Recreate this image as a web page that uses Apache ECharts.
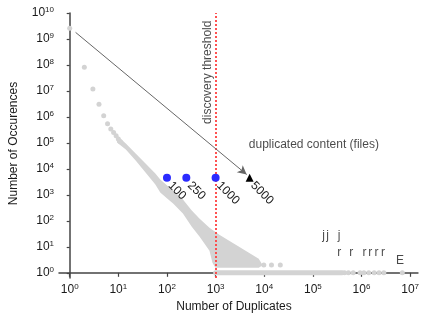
<!DOCTYPE html>
<html><head><meta charset="utf-8">
<script src="https://cdn.jsdelivr.net/npm/echarts@6/dist/echarts.min.js"></script>
<style>html,body{margin:0;padding:0;background:#fff}#c{width:422px;height:320px}</style>
</head><body><div id="c"></div>
<script>
// ---- tick labels (shown as 10^n) ----
const xTickExps = [0, 1, 2, 3, 4, 5, 6, 7];
const yTickExps = [0, 1, 2, 3, 4, 5, 6, 7, 8, 9, 10];

// ---- sparse head of the distribution (duplicates, occurences) ----
const headDuplicates = [1, 2, 3, 4, 5, 6, 7, 8, 9, 10, 11];
const headOccurences = [2.6e9, 8.1e7, 1.2e7, 3.1e6, 1.1e6, 5.5e5, 3.4e5, 2.5e5, 1.9e5, 1.4e5, 1.1e5];

// ---- outline of the dense grey band, as log10 values ----
const bandLogDup = [0.972, 1.154, 1.356, 1.559, 1.761, 1.862, 2.004, 2.126, 2.328, 2.510, 2.672, 2.874, 3.077, 3.279, 3.482, 3.684, 3.887, 3.968,
                    3.887, 2.996, 2.935, 2.874, 2.672, 2.510, 2.328, 2.126, 2.004, 1.862, 1.761, 1.559, 1.356, 1.154, 0.972];
const bandLogOcc = [5.290, 4.981, 4.595, 4.208, 3.822, 3.591, 3.359, 3.166, 2.819, 2.394, 2.085, 1.737, 1.467, 1.236, 1.004, 0.772, 0.541, 0.290,
                    0.193, 0.193, 0.386, 0.849, 1.390, 1.776, 2.278, 2.664, 2.857, 3.089, 3.398, 3.861, 4.324, 4.749, 5.019];

// ---- tail rows ----
const twoRowDuplicates = [9800, 14100, 21400];           // occurences = 2
const oneRowSolidDuplicates = [1000, 4.0e5];             // contiguous run, occurences = 1
const oneRowDuplicates = [4.47e5, 5.37e5, 6.76e5, 9.33e5, 1.12e6, 1.41e6, 1.82e6, 2.29e6, 2.88e6, 6.9e6];

// ---- highlighted thresholds ----
const thresholdDuplicates = [100, 250, 1000];
const thresholdLabels = ['100', '250', '1000'];
const filesDuplicates = [5000];
const filesLabels = ['5000'];
const markerOccurences = 4570;
const discoveryThreshold = 1000;

// ---- letter annotations ----
const letterText = ['j', 'j', 'j', 'r', 'r', 'r', 'r', 'r', 'r', 'E'];
const letterDuplicates = [1.66e5, 2.0e5, 3.47e5, 3.47e5, 6.17e5, 1.15e6, 1.51e6, 2.04e6, 2.75e6, 6.2e6];
const letterOccurences = [26, 26, 26, 5.9, 5.9, 5.9, 5.9, 5.9, 5.9, 3.0];

// ---- text annotations (log10 duplicates, log10 occurences) ----
const noteText = ['discovery threshold', 'duplicated content (files)'];
const noteLogDup = [2.83, 5.02];
const noteLogOcc = [7.72, 4.94];
const noteRotate = [90, 0];

// ---- arrow (duplicates, occurences) ----
const arrowStart = [1.32, 1.8e9];
const arrowEnd = [4350, 6080];

const L = Math.log10;
const GREY = '#d3d3d3';
const FONT = '"Liberation Sans", Arial, Helvetica, sans-serif';
const pow = v => '{b|10}{s|' + v + '}';
const rich = { b: { fontSize: 12, fontFamily: FONT, color: '#1a1a1a', lineHeight: 14 },
               s: { fontSize: 8, fontFamily: FONT, color: '#1a1a1a', verticalAlign: 'top', lineHeight: 10 } };

const chart = echarts.init(document.getElementById('c'), null, { renderer: 'canvas' });
const axisCommon = {
  type: 'value', splitLine: { show: false },
  axisLine: { show: true, lineStyle: { color: '#444', width: 1.5 } },
  nameTextStyle: { fontSize: 12, fontFamily: FONT, color: '#1a1a1a' }
};
const noteLabel = { show: true, formatter: p => p.name, position: 'inside', fontSize: 12, fontFamily: FONT, color: '#1a1a1a' };
chart.setOption({
  animation: false,
  grid: { left: 57, right: 0, top: 13, bottom: 42 },
  xAxis: Object.assign({}, axisCommon, {
    min: -0.22, max: 7.16,
    name: 'Number of Duplicates', nameLocation: 'middle', nameGap: 22,
    nameTextStyle: { fontSize: 12, fontFamily: FONT, color: '#1a1a1a', padding: [0, 9, 0, 0] },
    axisTick: { show: true, length: 4, customValues: xTickExps, lineStyle: { color: '#444', width: 1.2 } },
    axisLabel: { customValues: xTickExps, margin: 5, formatter: pow, rich: rich }
  }),
  yAxis: Object.assign({}, axisCommon, {
    min: -0.2, max: 10,
    name: 'Number of Occurences', nameLocation: 'middle', nameGap: 39,
    nameTextStyle: { fontSize: 12, fontFamily: FONT, color: '#1a1a1a', padding: [0, 0, 0, 4] },
    axisTick: { show: true, length: 3, customValues: yTickExps, lineStyle: { color: '#444', width: 1.2 } },
    axisLabel: { customValues: yTickExps, margin: 5, formatter: pow, rich: rich }
  }),
  series: [
    { type: 'custom', z: 1,
      data: bandLogDup.map((x, i) => [x, bandLogOcc[i]]),
      encode: { x: 0, y: 1 },
      renderItem: (params, api) => {
        if (params.dataIndex !== 0) return null;
        const pts = bandLogDup.map((x, i) => api.coord([x, bandLogOcc[i]]));
        return { type: 'polygon', shape: { points: pts }, style: { fill: GREY } };
      }
    },
    { type: 'scatter', z: 2, symbolSize: 5, itemStyle: { color: GREY, opacity: 1 },
      data: headDuplicates.map((d, i) => [L(d), L(headOccurences[i])]) },
    { type: 'scatter', z: 2, symbolSize: 5, itemStyle: { color: GREY, opacity: 1 },
      data: twoRowDuplicates.map(d => [L(d), L(2)]).concat(oneRowDuplicates.map(d => [L(d), 0])) },
    { type: 'line', z: 2, symbol: 'none', lineStyle: { color: GREY, width: 5, cap: 'round' },
      data: oneRowSolidDuplicates.map(d => [L(d), 0]),
      markLine: {
        silent: true, symbol: ['none', 'none'], z: 5,
        label: { show: false },
        lineStyle: { color: '#ff4040', width: 1.8, type: [2, 2] },
        data: [{ xAxis: L(discoveryThreshold) }]
      }
    },
    { type: 'line', z: 3, symbol: 'none', lineStyle: { width: 0 }, data: [],
      markLine: {
        silent: true, symbol: ['none', 'arrow'], symbolSize: [7, 9],
        label: { show: false },
        lineStyle: { color: '#666', width: 1, type: 'solid' },
        data: [[{ coord: [L(arrowStart[0]), L(arrowStart[1])] }, { coord: [L(arrowEnd[0]), L(arrowEnd[1])] }]]
      }
    },
    { type: 'scatter', z: 6, symbolSize: 8, itemStyle: { color: '#2b2bff', opacity: 1 },
      data: thresholdDuplicates.map((d, i) => ({ value: [L(d), L(markerOccurences)], name: thresholdLabels[i] })),
      label: { show: true, formatter: p => p.name, position: [7, 10], rotate: -45, align: 'left', verticalAlign: 'middle',
               fontSize: 12, fontFamily: FONT, color: '#1a1a1a' } },
    { type: 'scatter', z: 6, symbol: 'triangle', symbolSize: 8, itemStyle: { color: '#000', opacity: 1 },
      data: filesDuplicates.map((d, i) => ({ value: [L(d), L(markerOccurences)], name: filesLabels[i] })),
      label: { show: true, formatter: p => p.name, position: [7, 10], rotate: -45, align: 'left', verticalAlign: 'middle',
               fontSize: 12, fontFamily: FONT, color: '#1a1a1a' } },
    { type: 'scatter', z: 6, symbolSize: 0,
      data: letterText.map((t, i) => ({ value: [L(letterDuplicates[i]), L(letterOccurences[i])], name: t })),
      label: noteLabel },
    { type: 'scatter', z: 6, symbolSize: 0,
      data: noteText.map((t, i) => ({ value: [noteLogDup[i], noteLogOcc[i]], name: t,
                                      label: { rotate: noteRotate[i] } })),
      label: noteLabel }
  ]
});
</script></body></html>
